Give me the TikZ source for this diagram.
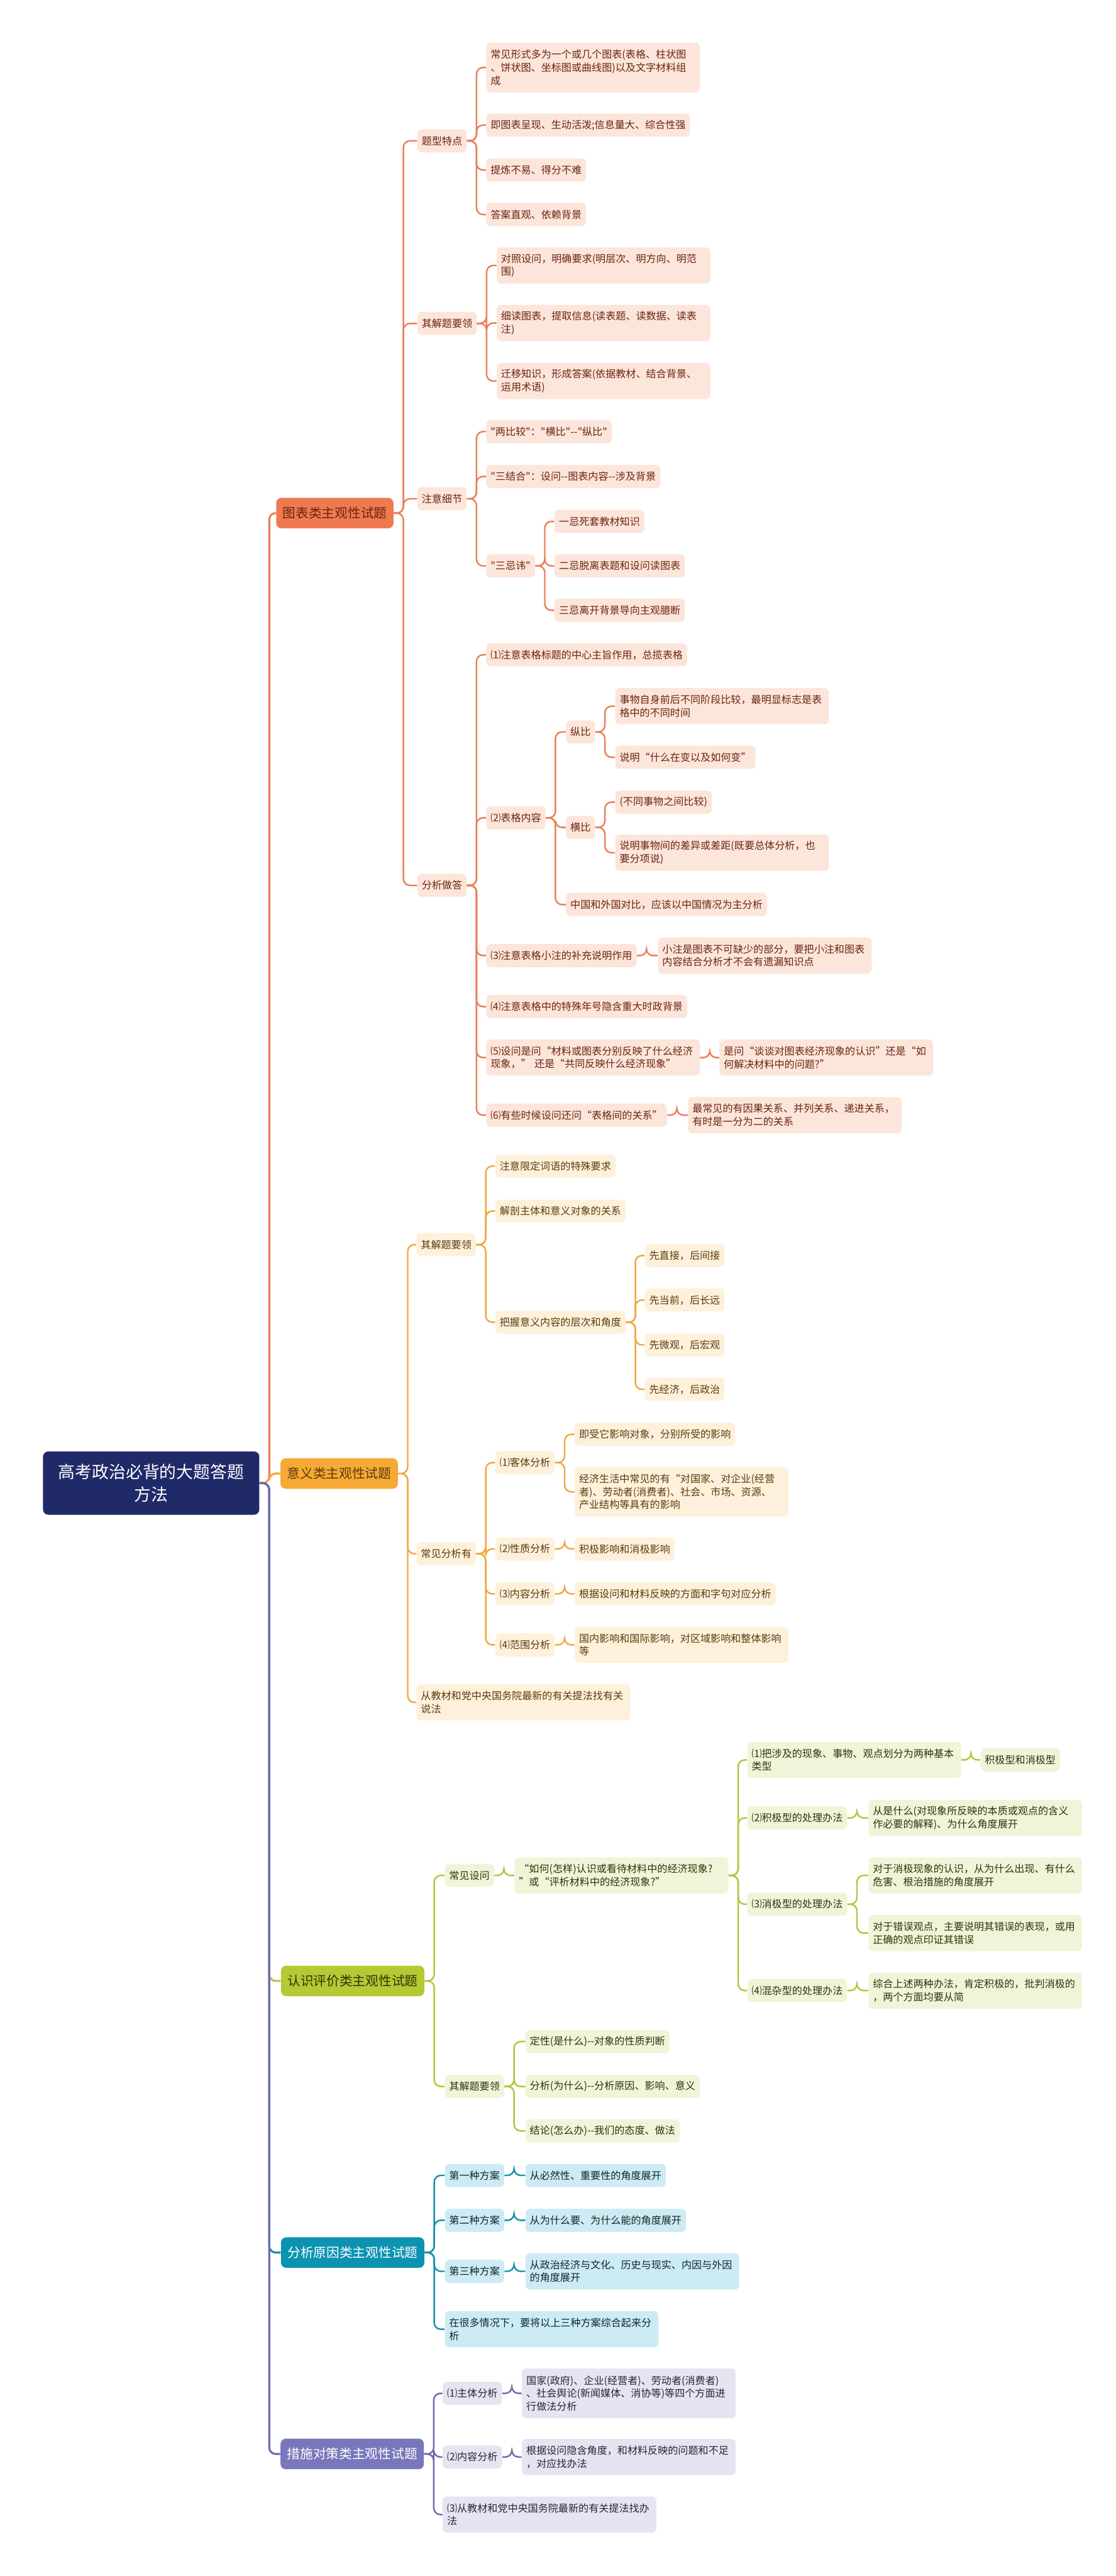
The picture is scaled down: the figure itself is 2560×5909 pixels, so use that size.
\documentclass[tikz,border=0pt]{standalone}
\usepackage{fontspec}
\setmainfont{Noto Sans CJK SC}
\newfontfamily\cnfont{Noto Sans CJK SC}

% colours of the five branches
\definecolor{rootblue}{HTML}{202A68}
\definecolor{coralmain}{HTML}{F07A50}
\definecolor{coralline}{HTML}{E98058}
\definecolor{coralfill}{HTML}{FCE5DA}
\definecolor{coraltext}{HTML}{6A2410}
\definecolor{orangemain}{HTML}{F6A935}
\definecolor{orangeline}{HTML}{F1A83E}
\definecolor{orangefill}{HTML}{FEF1DC}
\definecolor{orangetext}{HTML}{5A3A0C}
\definecolor{greenmain}{HTML}{B6C833}
\definecolor{greenline}{HTML}{B3C53C}
\definecolor{greenfill}{HTML}{F1F4D9}
\definecolor{greentext}{HTML}{2F3308}
\definecolor{tealmain}{HTML}{0C93B2}
\definecolor{tealline}{HTML}{168FAC}
\definecolor{tealfill}{HTML}{CDEBF3}
\definecolor{tealtext}{HTML}{10262C}
\definecolor{purplemain}{HTML}{7977BB}
\definecolor{purpleline}{HTML}{6D6BAF}
\definecolor{purplefill}{HTML}{E5E5F2}
\definecolor{purpletext}{HTML}{25243A}

\tikzset{
  leaf/.style={anchor=west, rounded corners=0.1cm, inner xsep=0.1cm, inner ysep=0.04cm,
    minimum height=0.53cm, font=\cnfont\fontsize{6.6pt}{8.5pt}\selectfont},
  wrap/.style={leaf, text width=4.7cm, align=left},
  twoline/.style={minimum height=0.83cm},
  threeline/.style={minimum height=1.14cm},
  topic/.style={anchor=west, rounded corners=0.12cm, inner xsep=0.15cm,
    minimum height=0.7cm, font=\cnfont\fontsize{8.5pt}{10pt}\selectfont},
  link/.style={line width=1pt, rounded corners=0.15cm,
    to path={-- ++(22,0) |- (\tikztotarget)}},
  c1/.style={fill=coralfill, text=coraltext},
  c2/.style={fill=orangefill, text=orangetext},
  c3/.style={fill=greenfill, text=greentext},
  c4/.style={fill=tealfill, text=tealtext},
  c5/.style={fill=purplefill, text=purpletext},
  l1/.style={link, draw=coralline},
  l2/.style={link, draw=orangeline},
  l3/.style={link, draw=greenline},
  l4/.style={link, draw=tealline},
  l5/.style={link, draw=purpleline}
}

\begin{document}
\begin{tikzpicture}[x=0.01cm, y=-0.01cm]
  \useasboundingbox (0,0) rectangle (2560,5909);
  \fill[white] (0,0) rectangle (2560,5909);

  % root and the five topics
  \node[topic, fill=rootblue, text=white, minimum width=4.96cm, minimum height=1.45cm,
    align=center, font=\cnfont\fontsize{11pt}{15pt}\selectfont] (root) at (98,3402) {高考政治必背的大题答题\\方法};
  \node[topic, fill=coralmain, text=coraltext] (tb) at (633,1177) {图表类主观性试题};
  \node[topic, fill=orangemain, text=orangetext] (yy) at (643,3380) {意义类主观性试题};
  \node[topic, fill=greenmain, text=greentext] (rs) at (644,4544) {认识评价类主观性试题};
  \node[topic, fill=tealmain, text=white] (fx) at (644,5167) {分析原因类主观性试题};
  \node[topic, fill=purplemain, text=white] (cs) at (643,5629) {措施对策类主观性试题};

  % 图表类
  \node[leaf, c1] (tb1) at (957,323) {题型特点};
  \node[wrap, threeline, c1] (tb1a) at (1115,155) {常见形式多为一个或几个图表(表格、柱状图\\、饼状图、坐标图或曲线图)以及文字材料组\\成};
  \node[leaf, c1] (tb1b) at (1115,287) {即图表呈现、生动活泼;信息量大、综合性强};
  \node[leaf, c1] (tb1c) at (1115,390) {提炼不易、得分不难};
  \node[leaf, c1] (tb1d) at (1115,492) {答案直观、依赖背景};
  \node[leaf, c1] (tb2) at (957,742) {其解题要领};
  \node[wrap, twoline, c1] (tb2a) at (1139,609) {对照设问，明确要求(明层次、明方向、明范\\围)};
  \node[wrap, twoline, c1] (tb2b) at (1139,741) {细读图表，提取信息(读表题、读数据、读表\\注)};
  \node[wrap, twoline, c1] (tb2c) at (1139,874) {迁移知识，形成答案(依据教材、结合背景、\\运用术语)};
  \node[leaf, c1] (tb3) at (957,1144) {注意细节};
  \node[leaf, c1] (tb3a) at (1115,990) {"两比较"："横比"--"纵比"};
  \node[leaf, c1] (tb3b) at (1115,1093) {"三结合"：设问--图表内容--涉及背景};
  \node[leaf, c1] (tb3c) at (1115,1298) {"三忌讳"};
  \node[leaf, c1] (tb3c1) at (1272,1196) {一忌死套教材知识};
  \node[leaf, c1] (tb3c2) at (1272,1298) {二忌脱离表题和设问读图表};
  \node[leaf, c1] (tb3c3) at (1272,1400) {三忌离开背景导向主观臆断};
  \node[leaf, c1] (tb4) at (957,2031) {分析做答};
  \node[leaf, c1] (tb4a) at (1115,1502) {⑴注意表格标题的中心主旨作用，总揽表格};
  \node[leaf, c1] (tb4b) at (1115,1876) {⑵表格内容};
  \node[leaf, c1] (tb4b1) at (1298,1679) {纵比};
  \node[wrap, twoline, c1] (tb4b1a) at (1411,1620) {事物自身前后不同阶段比较，最明显标志是表\\格中的不同时间};
  \node[leaf, c1] (tb4b1b) at (1411,1737) {说明“什么在变以及如何变”};
  \node[leaf, c1] (tb4b2) at (1298,1898) {横比};
  \node[leaf, c1] (tb4b2a) at (1411,1840) {(不同事物之间比较)};
  \node[wrap, twoline, c1] (tb4b2b) at (1411,1956) {说明事物间的差异或差距(既要总体分析，也\\要分项说)};
  \node[leaf, c1] (tb4b3) at (1298,2075) {中国和外国对比，应该以中国情况为主分析};
  \node[leaf, c1] (tb4c) at (1115,2192) {⑶注意表格小注的补充说明作用};
  \node[wrap, twoline, c1] (tb4c1) at (1509,2192) {小注是图表不可缺少的部分，要把小注和图表\\内容结合分析才不会有遗漏知识点};
  \node[leaf, c1] (tb4d) at (1115,2309) {⑷注意表格中的特殊年号隐含重大时政背景};
  \node[wrap, twoline, c1] (tb4e) at (1115,2426) {⑸设问是问“材料或图表分别反映了什么经济\\现象，” 还是“共同反映什么经济现象”};
  \node[wrap, twoline, c1] (tb4e1) at (1650,2426) {是问“谈谈对图表经济现象的认识”还是“如\\何解决材料中的问题?”};
  \node[leaf, c1] (tb4f) at (1115,2558) {⑹有些时候设问还问“表格间的关系”};
  \node[wrap, twoline, c1] (tb4f1) at (1578,2558) {最常见的有因果关系、并列关系、递进关系，\\有时是一分为二的关系};

  % 意义类
  \node[leaf, c2] (yy1) at (955,2855) {其解题要领};
  \node[leaf, c2] (yy1a) at (1136,2675) {注意限定词语的特殊要求};
  \node[leaf, c2] (yy1b) at (1136,2778) {解剖主体和意义对象的关系};
  \node[leaf, c2] (yy1c) at (1136,3033) {把握意义内容的层次和角度};
  \node[leaf, c2] (yy1c1) at (1479,2880) {先直接，后间接};
  \node[leaf, c2] (yy1c2) at (1479,2982) {先当前，后长远};
  \node[leaf, c2] (yy1c3) at (1479,3085) {先微观，后宏观};
  \node[leaf, c2] (yy1c4) at (1479,3187) {先经济，后政治};
  \node[leaf, c2] (yy2) at (955,3564) {常见分析有};
  \node[leaf, c2] (yy2a) at (1136,3355) {⑴客体分析};
  \node[leaf, c2] (yy2a1) at (1318,3290) {即受它影响对象，分别所受的影响};
  \node[wrap, threeline, c2] (yy2a2) at (1318,3422) {经济生活中常见的有“对国家、对企业(经营\\者)、劳动者(消费者)、社会、市场、资源、\\产业结构等具有的影响};
  \node[leaf, c2] (yy2b) at (1136,3553) {⑵性质分析};
  \node[leaf, c2] (yy2b1) at (1318,3553) {积极影响和消极影响};
  \node[leaf, c2] (yy2c) at (1136,3656) {⑶内容分析};
  \node[leaf, c2] (yy2c1) at (1318,3656) {根据设问和材料反映的方面和字句对应分析};
  \node[leaf, c2] (yy2d) at (1136,3773) {⑷范围分析};
  \node[wrap, twoline, c2] (yy2d1) at (1318,3773) {国内影响和国际影响，对区域影响和整体影响\\等};
  \node[wrap, twoline, c2] (yy3) at (955,3905) {从教材和党中央国务院最新的有关提法找有关\\说法};

  % 认识评价类
  \node[leaf, c3] (rs1) at (1020,4302) {常见设问};
  \node[wrap, twoline, c3] (rs1a) at (1180,4302) {“如何(怎样)认识或看待材料中的经济现象?\\”或“评析材料中的经济现象?”};
  \node[wrap, twoline, c3] (rs1a1) at (1714,4037) {⑴把涉及的现象、事物、观点划分为两种基本\\类型};
  \node[leaf, c3] (rs1a1x) at (2249,4037) {积极型和消极型};
  \node[leaf, c3] (rs1a2) at (1714,4170) {⑵积极型的处理办法};
  \node[wrap, twoline, c3] (rs1a2x) at (1992,4170) {从是什么(对现象所反映的本质或观点的含义\\作必要的解释)、为什么角度展开};
  \node[leaf, c3] (rs1a3) at (1714,4368) {⑶消极型的处理办法};
  \node[wrap, twoline, c3] (rs1a3x) at (1992,4302) {对于消极现象的认识，从为什么出现、有什么\\危害、根治措施的角度展开};
  \node[wrap, twoline, c3] (rs1a3y) at (1992,4434) {对于错误观点，主要说明其错误的表现，或用\\正确的观点印证其错误};
  \node[leaf, c3] (rs1a4) at (1714,4566) {⑷混杂型的处理办法};
  \node[wrap, twoline, c3] (rs1a4x) at (1992,4566) {综合上述两种办法，肯定积极的，批判消极的\\，两个方面均要从简};
  \node[leaf, c3] (rs2) at (1020,4786) {其解题要领};
  \node[leaf, c3] (rs2a) at (1205,4683) {定性(是什么)--对象的性质判断};
  \node[leaf, c3] (rs2b) at (1205,4786) {分析(为什么)--分析原因、影响、意义};
  \node[leaf, c3] (rs2c) at (1205,4888) {结论(怎么办)--我们的态度、做法};

  % 分析原因类
  \node[leaf, c4] (fx1) at (1020,4990) {第一种方案};
  \node[leaf, c4] (fx1a) at (1205,4990) {从必然性、重要性的角度展开};
  \node[leaf, c4] (fx2) at (1020,5093) {第二种方案};
  \node[leaf, c4] (fx2a) at (1205,5093) {从为什么要、为什么能的角度展开};
  \node[leaf, c4] (fx3) at (1020,5210) {第三种方案};
  \node[wrap, twoline, c4] (fx3a) at (1205,5210) {从政治经济与文化、历史与现实、内因与外因\\的角度展开};
  \node[wrap, twoline, c4] (fx4) at (1020,5343) {在很多情况下，要将以上三种方案综合起来分\\析};

  % 措施对策类
  \node[leaf, c5] (cs1) at (1015,5490) {⑴主体分析};
  \node[wrap, threeline, c5] (cs1a) at (1197,5490) {国家(政府)、企业(经营者)、劳动者(消费者)\\、社会舆论(新闻媒体、消协等)等四个方面进\\行做法分析};
  \node[leaf, c5] (cs2) at (1015,5636) {⑵内容分析};
  \node[wrap, twoline, c5] (cs2a) at (1197,5636) {根据设问隐含角度，和材料反映的问题和不足\\，对应找办法};
  \node[wrap, twoline, c5] (cs3) at (1015,5768) {⑶从教材和党中央国务院最新的有关提法找办\\法};

  % connectors
  \draw[l1, line width=1.3pt] (root.east) to (tb.west);
  \draw[l2, line width=1.3pt] (root.east) to (yy.west);
  \draw[l3, line width=1.3pt] (root.east) to (rs.west);
  \draw[l4, line width=1.3pt] (root.east) to (fx.west);
  \draw[l5, line width=1.3pt] (root.east) to (cs.west);

  \foreach \a/\b in {tb/tb1, tb/tb2, tb/tb3, tb/tb4,
      tb1/tb1a, tb1/tb1b, tb1/tb1c, tb1/tb1d, tb2/tb2a, tb2/tb2b, tb2/tb2c,
      tb3/tb3a, tb3/tb3b, tb3/tb3c, tb3c/tb3c1, tb3c/tb3c2, tb3c/tb3c3,
      tb4/tb4a, tb4/tb4b, tb4/tb4c, tb4/tb4d, tb4/tb4e, tb4/tb4f,
      tb4b/tb4b1, tb4b/tb4b2, tb4b/tb4b3, tb4b1/tb4b1a, tb4b1/tb4b1b,
      tb4b2/tb4b2a, tb4b2/tb4b2b, tb4c/tb4c1, tb4e/tb4e1, tb4f/tb4f1}
    \draw[l1] (\a.east) to (\b.west);

  \foreach \a/\b in {yy/yy1, yy/yy2, yy/yy3, yy1/yy1a, yy1/yy1b, yy1/yy1c,
      yy1c/yy1c1, yy1c/yy1c2, yy1c/yy1c3, yy1c/yy1c4, yy2/yy2a, yy2/yy2b, yy2/yy2c, yy2/yy2d,
      yy2a/yy2a1, yy2a/yy2a2, yy2b/yy2b1, yy2c/yy2c1, yy2d/yy2d1}
    \draw[l2] (\a.east) to (\b.west);

  \foreach \a/\b in {rs/rs1, rs/rs2, rs1/rs1a, rs1a/rs1a1, rs1a/rs1a2, rs1a/rs1a3, rs1a/rs1a4,
      rs1a1/rs1a1x, rs1a2/rs1a2x, rs1a3/rs1a3x, rs1a3/rs1a3y, rs1a4/rs1a4x,
      rs2/rs2a, rs2/rs2b, rs2/rs2c}
    \draw[l3] (\a.east) to (\b.west);

  \foreach \a/\b in {fx/fx1, fx/fx2, fx/fx3, fx/fx4, fx1/fx1a, fx2/fx2a, fx3/fx3a}
    \draw[l4] (\a.east) to (\b.west);

  \foreach \a/\b in {cs/cs1, cs/cs2, cs/cs3, cs1/cs1a, cs2/cs2a}
    \draw[l5] (\a.east) to (\b.west);
\end{tikzpicture}
\end{document}
